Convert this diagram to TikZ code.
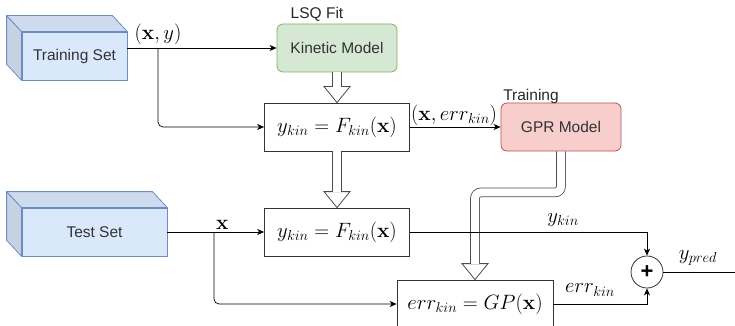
\documentclass[tikz,border=0pt]{standalone}
\usepackage[no-math]{fontspec}
\setmainfont{Liberation Sans}
\usetikzlibrary{arrows.meta,calc}

\definecolor{setfill}{HTML}{DAE8FC}
\definecolor{settop}{HTML}{CEDBEE}
\definecolor{setside}{HTML}{C6D2E4}
\definecolor{setline}{HTML}{6C8EBF}
\definecolor{kinfill}{HTML}{D5E8D4}
\definecolor{kinline}{HTML}{82B366}
\definecolor{gprfill}{HTML}{F8CECC}
\definecolor{gprline}{HTML}{B85450}
\definecolor{txt}{HTML}{333333}

% hollow arrow head, tip at #1
\newcommand{\hollowhead}[1]{%
  \draw[fill=white,draw=black!70,line width=0.8pt] (#1) -- ++(-13,-16) -- ++(26,0) -- cycle;}

\begin{document}
\begin{tikzpicture}[x=1pt,y=-1pt,
  font=\fontsize{15.5}{18}\selectfont,
  mth/.style={font=\fontsize{20}{24}\selectfont},
  dataset/.style={draw=setline,fill=setfill,line width=0.8pt,text=txt,inner sep=0pt,minimum height=48pt},
  cubeface/.style={draw=setline,line width=0.8pt,line join=round},
  model/.style={rounded corners=6pt,line width=0.8pt,text=txt,inner sep=0pt,minimum width=120pt,minimum height=48pt},
  fbox/.style={draw=black!80,line width=0.8pt,inner sep=0pt,minimum height=48pt,mth},
  link/.style={-{Stealth[length=7pt,width=6pt,inset=2pt]},line width=0.7pt},
  fat/.style={double=white,double distance=8pt,line width=0.8pt,draw=black!70}]

  \useasboundingbox (0,0) rectangle (735,326);

  % data sets
  \node[dataset,minimum width=105pt] (train) at (74.5,56) {Training Set};
  \draw[cubeface,fill=setside] (train.north west) -- ++(-15,-16) -- ($(train.south west)+(-15,-16)$) -- (train.south west) -- cycle;
  \draw[cubeface,fill=settop] (train.north west) -- ++(-15,-16) -- ($(train.north east)+(-15,-16)$) -- (train.north east) -- cycle;

  \node[dataset,minimum width=145pt] (test) at (94.5,232) {Test Set};
  \draw[cubeface,fill=setside] (test.north west) -- ++(-15,-16) -- ($(test.south west)+(-15,-16)$) -- (test.south west) -- cycle;
  \draw[cubeface,fill=settop] (test.north west) -- ++(-15,-16) -- ($(test.north east)+(-15,-16)$) -- (test.north east) -- cycle;

  % models
  \node[model,draw=kinline,fill=kinfill] (kin) at (337,48) {Kinetic Model};
  \node[text=black!85] (lsq) at (317,14) {LSQ Fit};
  \node[model,draw=gprline,fill=gprfill] (gpr) at (561,127) {GPR Model};
  \node[text=black!85] (trn) at (531,96) {Training};

  \node[fbox,minimum width=145pt] (f1) at (337,127) {$y_{kin}=F_{kin}(\mathbf{x})$};
  \node[fbox,minimum width=145pt] (f2) at (337,232) {$y_{kin}=F_{kin}(\mathbf{x})$};
  \node[fbox,minimum width=156pt] (gp) at (475,304) {$err_{kin}=GP(\mathbf{x})$};

  \node[circle,draw=black!80,line width=0.8pt,minimum size=32pt,inner sep=0pt,font=\fontsize{22}{24}\selectfont\bfseries] (sum) at (647,272) {+};

  % hollow arrows
  \hollowhead{f1.north}
  \draw[fat] (kin.south) -- ($(f1.north)+(0,-15.6)$);
  \hollowhead{f2.north}
  \draw[fat] (f1.south) -- ($(f2.north)+(0,-15.6)$);
  \hollowhead{gp.north}
  \draw[fat,rounded corners=6pt] (gpr.south) -- ++(0,41) -| ($(gp.north)+(0,-15.6)$);

  % training path
  \coordinate (b1) at (158,48);
  \draw[link] (train.east |- kin.west) -- (kin.west);
  \draw[link,rounded corners=5pt] (b1) |- (f1.west);
  \node[mth,above=0pt] (lxy) at (b1) {$(\mathbf{x},y)$};
  \draw[link] (f1.east) -- (gpr.west);
  \node[mth,anchor=south west,inner sep=1pt] (lxerr) at (f1.east) {$(\mathbf{x},err_{kin})$};

  % test path
  \coordinate (b2) at (214,232);
  \draw[link] (test.east) -- (f2.west);
  \draw[link,rounded corners=5pt] (b2) |- (gp.west);
  \node[mth,anchor=south west,inner sep=2pt] (lx) at (b2) {$\mathbf{x}$};
  \draw[link] (f2.east) -| (sum.north);
  \draw[link] (gp.east) -| (sum.south);
  \node[mth] (lykin) at (563,220) {$y_{kin}$};
  \node[mth] (lerr) at (590,290) {$err_{kin}$};

  \coordinate (out) at (735,272);
  \draw[line width=0.7pt] (sum.east) -- (out);
  \node[mth] (lypred) at (698,258) {$y_{pred}$};
\end{tikzpicture}
\end{document}
